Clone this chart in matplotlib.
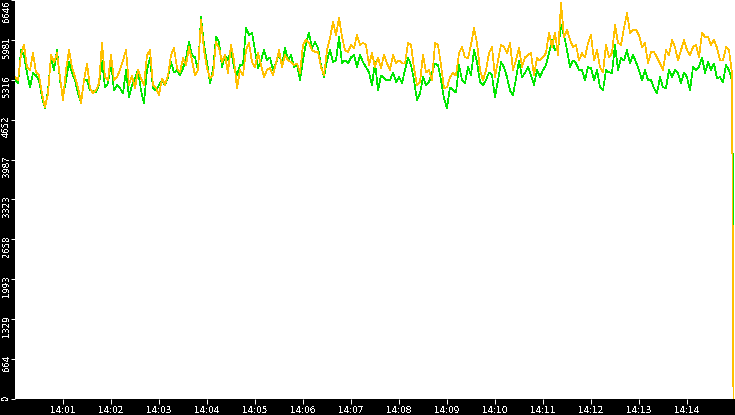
import matplotlib
matplotlib.use("Agg")
import matplotlib.pyplot as plt
import matplotlib.transforms as mtransforms
import pandas as pd

# ---- data ----
start_time = "2024-01-01 14:00:00"
sample_step = "3750ms"
end_time = "2024-01-01 14:14:58"   # last sample (the drop at the right edge)

orange_values = [
    5360, 5310, 5730, 5900, 5530, 5480, 5760, 5440, 5390, 5090,
    4860, 5090, 5730, 5610, 5760, 5360, 4980, 5480, 5810, 5530,
    5360, 5190, 4930, 5310, 5590, 5180, 5090, 5140, 5260, 5930,
    5360, 5310, 5730, 5310, 5360, 5480, 5640, 5810, 5230, 5390,
    5180, 5480, 5340, 5230, 5730, 5810, 5230, 5180, 5060, 5340,
    5230, 5390, 5730, 5850, 5510, 5440, 5680, 5560, 5860, 5640,
    5390, 5480, 6310, 5810, 5510, 5340, 5390, 5950, 5850, 5610,
    5730, 5430, 5900, 5640, 5180, 5480, 5390, 5810, 5930, 5610,
    5530, 5760, 5560, 5360, 5480, 5510, 5390, 5590, 5810, 5530,
    5730, 5640, 5610, 5560, 5590, 5430, 5900, 5980, 5930, 5810,
    5780, 5780, 5530, 5390, 5810, 6010, 6280, 6060, 6350, 6030,
    5810, 5780, 5900, 5850, 6060, 5900, 5930, 5900, 5560, 5760,
    5530, 5690, 5510, 5730, 5590, 5480, 5730, 5590, 5640, 5590,
    5590, 5930, 5900, 5510, 5230, 5280, 5730, 5440, 5480, 5310,
    5930, 5900, 5560, 5180, 5190, 5360, 5430, 5390, 5760, 5860,
    5690, 5680, 5900, 6180, 5930, 5480, 5310, 5480, 5760, 5860,
    5360, 5640, 5900, 5860, 5760, 5930, 5480, 5640, 5850, 5530,
    5690, 5730, 5760, 5390, 5680, 5640, 5690, 5760, 6100, 5860,
    6100, 5730, 6600, 6030, 6150, 5980, 5860, 5900, 5640, 5760,
    5690, 5930, 6060, 5640, 5810, 5530, 5440, 5900, 5690, 5760,
    6230, 5930, 5900, 6180, 6430, 6100, 6150, 6150, 6060, 5860,
    5930, 5590, 5780, 5780, 5690, 5590, 5480, 5810, 5730, 5980,
    5860, 5640, 5810, 5980, 5810, 5730, 5860, 5900, 5690, 6100,
    6030, 6030, 5900, 5980, 5850, 5640, 5640, 5860, 5810, 5430,
]
orange_last = 0

green_values = [
    5310, 5260, 5810, 5730, 5430, 5190, 5430, 5390, 5310, 5030,
    4840, 5140, 5680, 5480, 5810, 5310, 5030, 5310, 5610, 5430,
    5310, 5090, 4930, 5310, 5310, 5140, 5140, 5110, 5230, 5640,
    5190, 5260, 5610, 5140, 5230, 5180, 5090, 5480, 5030, 5230,
    5340, 5480, 5140, 4930, 5480, 5690, 5180, 5140, 5230, 5310,
    5230, 5360, 5610, 5440, 5480, 5390, 5510, 5680, 5950, 5730,
    5690, 5480, 6360, 5900, 5610, 5260, 5480, 6030, 5950, 5530,
    5730, 5640, 5810, 5530, 5390, 5560, 5560, 6180, 6060, 6100,
    5810, 5510, 5640, 5810, 5640, 5690, 5480, 5590, 5760, 5560,
    5850, 5640, 5730, 5530, 5560, 5310, 5640, 5930, 6100, 5850,
    5950, 5850, 5560, 5360, 5640, 5810, 5610, 5640, 6030, 5590,
    5640, 5590, 5690, 5730, 5530, 5730, 5610, 5530, 5440, 5230,
    5610, 5140, 5390, 5340, 5310, 5310, 5440, 5280, 5360, 5260,
    5480, 5690, 5560, 5310, 4980, 5090, 5360, 5230, 5280, 5430,
    5590, 5560, 5310, 5010, 4840, 5190, 5140, 5110, 5560, 5310,
    5260, 5530, 5390, 5810, 5610, 5280, 5230, 5310, 5440, 5390,
    5030, 5310, 5610, 5530, 5360, 5140, 5060, 5340, 5640, 5360,
    5430, 5530, 5390, 5230, 5480, 5360, 5480, 5560, 5760, 5980,
    5810, 5810, 6230, 6060, 5810, 5530, 5640, 5590, 5480, 5480,
    5310, 5530, 5510, 5310, 5480, 5190, 5140, 5480, 5440, 5430,
    5900, 5480, 5680, 5640, 5810, 5590, 5730, 5610, 5480, 5310,
    5480, 5310, 5310, 5180, 5090, 5360, 5190, 5180, 5480, 5360,
    5480, 5430, 5260, 5440, 5360, 5140, 5530, 5480, 5530, 5690,
    5430, 5610, 5480, 5590, 5340, 5360, 5280, 5560, 5480, 5310,
]
green_last = 2710

y_ticks = [0, 664, 1329, 1993, 2658, 3323, 3987, 4652, 5316, 5981, 6646]
x_tick_labels = ["14:01", "14:02", "14:03", "14:04", "14:05", "14:06", "14:07",
                 "14:08", "14:09", "14:10", "14:11", "14:12", "14:13", "14:14"]

# ---- figure ----
plt.rcParams["text.antialiased"] = False
plt.rcParams["font.family"] = ["DejaVu Sans"]

W, H, DPI = 735, 415, 100
fig = plt.figure(figsize=(W / DPI, H / DPI), dpi=DPI, facecolor="black")
ax = fig.add_axes([15 / W, 16 / H, 720 / W, 399 / H])
ax.set_facecolor("white")
for s in ax.spines.values():
    s.set_visible(False)

times = list(pd.date_range(start_time, periods=len(orange_values), freq=sample_step))
times.append(pd.Timestamp(end_time))
ax.plot(times, green_values + [green_last], color="#00e600", lw=0.5,
        antialiased=False)
ax.plot(times, orange_values + [orange_last], color="#ffc000", lw=0.5,
        antialiased=False)

t0 = pd.Timestamp(start_time)
ax.set_xlim(t0, t0 + pd.Timedelta(minutes=15))
ax.set_ylim(0, y_ticks[-1])

# x ticks
xt = [t0 + pd.Timedelta(minutes=i + 1) for i in range(len(x_tick_labels))]
ax.set_xticks(xt)
ax.set_xticklabels(x_tick_labels)
ax.tick_params(axis="x", colors="white", length=3.6, width=0.72, pad=1.2,
               labelsize=6.4, direction="out")

# y ticks (labels drawn rotated, ending just above each tick)
ax.set_yticks(y_ticks)
ax.tick_params(axis="y", colors="white", length=3.0, width=0.72,
               direction="out", labelleft=False)
base = ax.get_yaxis_transform()
for i, v in enumerate(y_ticks):
    dy = 4 if i < len(y_ticks) - 1 else -1
    tr = base + mtransforms.ScaledTranslation(-8.5 / DPI, dy / DPI, fig.dpi_scale_trans)
    ax.text(0, v, str(v), transform=tr, rotation=90, rotation_mode="anchor",
            ha="right", va="center", color="white", fontsize=6.1, clip_on=False)

fig.savefig("out.png", dpi=DPI, facecolor="black")
